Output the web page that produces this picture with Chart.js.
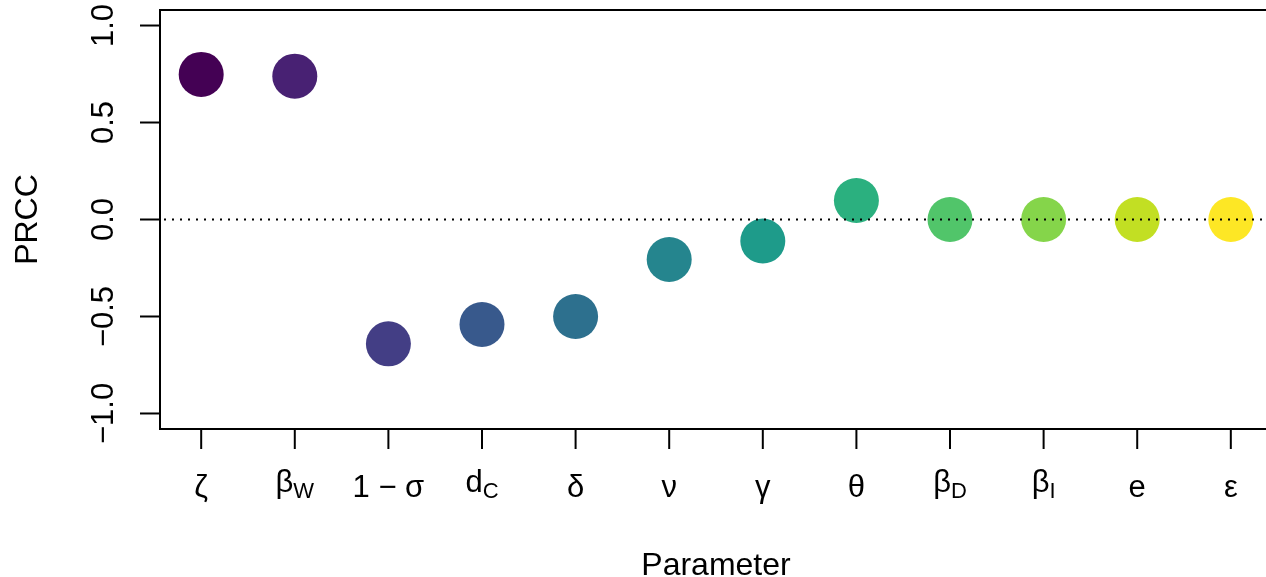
<!DOCTYPE html>
<html>
<head>
<meta charset="utf-8">
<script src="https://cdn.jsdelivr.net/npm/chart.js@4"></script>
<style>
  html, body { margin: 0; padding: 0; background: #fff; overflow: hidden; }
  #wrap { width: 1290px; height: 577px; }
</style>
</head>
<body>
<div id="wrap"><canvas id="chart"></canvas></div>
<script>
// parameter labels: main glyph + subscript
var paramMain = ['ζ', 'β', '1 − σ', 'd', 'δ', 'ν', 'γ', 'θ', 'β', 'β', 'e', 'ε'];
var paramSub  = ['',  'W', '',      'C', '',  '',  '',  '',  'D', 'I', '',  ''];
var prcc = [0.748, 0.739, -0.641, -0.541, -0.500, -0.206, -0.111, 0.098, 0.0, 0.0, 0.0, 0.0];
var colors = ['#440154', '#482173', '#433E85', '#38598C', '#2D708E', '#25858E',
              '#1E9B8A', '#2BB07F', '#51C56A', '#85D54A', '#C2DF23', '#FDE725'];
var yTicks = [-1.0, -0.5, 0.0, 0.5, 1.0];

var SANS = '"Liberation Sans", Arial, sans-serif';
var GREEK = '"Liberation Sans", Arial, sans-serif';

function isGreek(s) { return /[\u0370-\u03ff]/.test(s); }

// draw text made of pieces, centred at cx
function drawPieces(ctx, pieces, cx) {
  var total = 0;
  pieces.forEach(function(p) {
    ctx.font = p.size + 'px ' + p.family;
    p.w = ctx.measureText(p.text).width;
    total += p.w;
  });
  var x = cx - total / 2;
  pieces.forEach(function(p) {
    ctx.font = p.size + 'px ' + p.family;
    ctx.fillText(p.text, x, p.y);
    x += p.w;
  });
}

var axesPlugin = {
  id: 'rAxes',
  afterDatasetsDraw: function(chart) {
    var ctx = chart.ctx;
    var a = chart.chartArea;
    var xs = chart.scales.x, ys = chart.scales.y;
    ctx.save();

    // dotted zero line
    ctx.strokeStyle = '#000';
    ctx.lineWidth = 2;
    ctx.setLineDash([2, 6]);
    var y0 = ys.getPixelForValue(0);
    ctx.beginPath();
    ctx.moveTo(a.left + 4, y0);
    ctx.lineTo(a.right, y0);
    ctx.stroke();
    ctx.setLineDash([]);

    // box
    ctx.beginPath();
    ctx.rect(a.left, a.top, a.right - a.left, a.bottom - a.top);
    ctx.stroke();

    // y ticks and labels
    ctx.fillStyle = '#000';
    ctx.textAlign = 'center';
    ctx.textBaseline = 'alphabetic';
    yTicks.forEach(function(v) {
      var py = ys.getPixelForValue(v);
      ctx.beginPath();
      ctx.moveTo(a.left - 20, py);
      ctx.lineTo(a.left, py);
      ctx.stroke();
      ctx.save();
      ctx.translate(113, py);
      ctx.rotate(-Math.PI / 2);
      ctx.font = '31px ' + SANS;
      ctx.fillText(v.toFixed(1).replace('-', '\u2212'), 0, 0);
      ctx.restore();
    });

    // x ticks and labels
    paramMain.forEach(function(m, i) {
      var px = xs.getPixelForValue(i + 1);
      ctx.beginPath();
      ctx.moveTo(px, a.bottom);
      ctx.lineTo(px, a.bottom + 20);
      ctx.stroke();
      var sub = paramSub[i];
      var pieces;
      if (sub) {
        pieces = [
          { text: m, size: 31, family: isGreek(m) ? GREEK : SANS, y: 492 },
          { text: sub, size: 22, family: SANS, y: 498 }
        ];
      } else {
        pieces = [{ text: m, size: 31, family: SANS, y: 497 }];
      }
      ctx.textAlign = 'left';
      drawPieces(ctx, pieces, px);
    });

    // axis titles
    ctx.textAlign = 'center';
    ctx.font = '32px ' + SANS;
    ctx.fillText('Parameter', 716, 575);
    ctx.save();
    ctx.translate(37, ys.getPixelForValue(0));
    ctx.rotate(-Math.PI / 2);
    ctx.fillText('PRCC', 0, 0);
    ctx.restore();

    ctx.restore();
  }
};

var chart = new Chart(document.getElementById('chart'), {
  type: 'scatter',
  data: {
    datasets: [{
      data: prcc.map(function(v, i) { return { x: i + 1, y: v }; }),
      backgroundColor: colors,
      borderWidth: 0,
      pointRadius: 22.5,
      pointHoverRadius: 22.5
    }]
  },
  options: {
    responsive: true,
    maintainAspectRatio: false,
    animation: false,
    events: [],
    layout: { autoPadding: false, padding: { left: 160, top: 10, right: 18, bottom: 148 } },
    plugins: { legend: { display: false }, tooltip: { enabled: false } },
    scales: {
      x: { type: 'linear', min: 0.56, max: 12.44, display: false },
      y: { type: 'linear', min: -1.08, max: 1.08, display: false }
    }
  },
  plugins: [axesPlugin]
});
</script>
</body>
</html>
